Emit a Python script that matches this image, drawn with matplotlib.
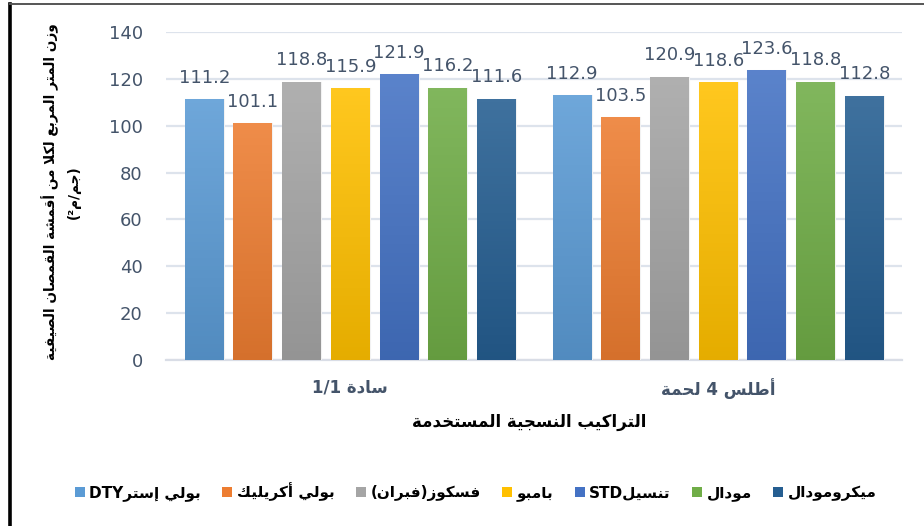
import re
import numpy as np
import matplotlib
matplotlib.use("Agg")
import matplotlib.pyplot as plt
from matplotlib.patches import Patch
from matplotlib.colors import to_rgb
from matplotlib.lines import Line2D

# data
groups = ["سادة 1/1", "أطلس 4 لحمة"]
series = ["بولي إسترDTY", "بولي أكريليك", "فسكوز(فبران)", "بامبو",
          "تنسيلSTD", "مودال", "ميكرومودال"]
values = [
    [111.2, 112.9],
    [101.1, 103.5],
    [118.8, 120.9],
    [115.9, 118.6],
    [121.9, 123.6],
    [116.2, 118.8],
    [111.6, 112.8],
]
colors = ["#5B9BD5", "#ED7D31", "#A5A5A5", "#FFC000", "#4472C4", "#70AD47", "#255E91"]
y_title = ["وزن المتر المربع لكلا من أقمشة القمصان الصيفية", "(جم/م²)"]
x_title = "التراكيب النسجية المستخدمة"

# small arabic shaper: matplotlib draws glyphs left to right with no joining
FORMS = {
    "ا": (0xFE8D, 0xFE8E), "أ": (0xFE83, 0xFE84), "إ": (0xFE87, 0xFE88), "آ": (0xFE81, 0xFE82),
    "ب": (0xFE8F, 0xFE90, 0xFE91, 0xFE92), "ة": (0xFE93, 0xFE94),
    "ت": (0xFE95, 0xFE96, 0xFE97, 0xFE98), "ث": (0xFE99, 0xFE9A, 0xFE9B, 0xFE9C),
    "ج": (0xFE9D, 0xFE9E, 0xFE9F, 0xFEA0), "ح": (0xFEA1, 0xFEA2, 0xFEA3, 0xFEA4),
    "خ": (0xFEA5, 0xFEA6, 0xFEA7, 0xFEA8), "د": (0xFEA9, 0xFEAA), "ذ": (0xFEAB, 0xFEAC),
    "ر": (0xFEAD, 0xFEAE), "ز": (0xFEAF, 0xFEB0),
    "س": (0xFEB1, 0xFEB2, 0xFEB3, 0xFEB4), "ش": (0xFEB5, 0xFEB6, 0xFEB7, 0xFEB8),
    "ص": (0xFEB9, 0xFEBA, 0xFEBB, 0xFEBC), "ض": (0xFEBD, 0xFEBE, 0xFEBF, 0xFEC0),
    "ط": (0xFEC1, 0xFEC2, 0xFEC3, 0xFEC4), "ظ": (0xFEC5, 0xFEC6, 0xFEC7, 0xFEC8),
    "ع": (0xFEC9, 0xFECA, 0xFECB, 0xFECC), "غ": (0xFECD, 0xFECE, 0xFECF, 0xFED0),
    "ف": (0xFED1, 0xFED2, 0xFED3, 0xFED4), "ق": (0xFED5, 0xFED6, 0xFED7, 0xFED8),
    "ك": (0xFED9, 0xFEDA, 0xFEDB, 0xFEDC), "ل": (0xFEDD, 0xFEDE, 0xFEDF, 0xFEE0),
    "م": (0xFEE1, 0xFEE2, 0xFEE3, 0xFEE4), "ن": (0xFEE5, 0xFEE6, 0xFEE7, 0xFEE8),
    "ه": (0xFEE9, 0xFEEA, 0xFEEB, 0xFEEC), "و": (0xFEED, 0xFEEE), "ى": (0xFEEF, 0xFEF0),
    "ي": (0xFEF1, 0xFEF2, 0xFEF3, 0xFEF4),
}
LAM_ALEF = {"ا": (0xFEFB, 0xFEFC), "أ": (0xFEF7, 0xFEF8), "إ": (0xFEF9, 0xFEFA), "آ": (0xFEF5, 0xFEF6)}


def shape(text):
    out = []
    i = 0
    n = len(text)
    while i < n:
        c = text[i]
        if c not in FORMS:
            out.append(c)
            i += 1
            continue
        prev = text[i - 1] if i > 0 else ""
        joins_prev = prev in FORMS and len(FORMS[prev]) == 4
        if c == "ل" and i + 1 < n and text[i + 1] in LAM_ALEF:
            out.append(chr(LAM_ALEF[text[i + 1]][1 if joins_prev else 0]))
            i += 2
            continue
        nxt = text[i + 1] if i + 1 < n else ""
        f = FORMS[c]
        joins_next = len(f) == 4 and nxt in FORMS
        if joins_prev and joins_next:
            g = f[3]
        elif joins_prev:
            g = f[1]
        elif joins_next:
            g = f[2]
        else:
            g = f[0]
        out.append(chr(g))
        i += 1
    return "".join(out)


def ar(text):
    # right-to-left line: flip everything, then put latin / number runs back
    s = shape(text)[::-1].translate(str.maketrans("()", ")("))
    return re.sub(r"[A-Za-z0-9]+(?:[./][A-Za-z0-9]+)*", lambda m: m.group(0)[::-1], s)


def mix(c, other, t):
    c = np.array(to_rgb(c))
    return tuple(c * (1 - t) + np.array(other) * t)


plt.rcParams["font.family"] = ["DejaVu Sans"]
fig = plt.figure(figsize=(9.24, 5.26), dpi=100)
ax = fig.add_axes([0.18, 0.3156, 0.7965, 0.6236])

x = np.arange(len(groups))
slot = 48.7 / 368
width = 39 / 368
label_col = "#44546A"

for k, (vals, col) in enumerate(zip(values, colors)):
    pos = x + (k - 3) * slot
    bars = ax.bar(pos, vals, width, color=col, edgecolor="#f2f2f2", linewidth=0.8, zorder=3)
    # soft vertical gradient like the office style
    top = mix(col, (1, 1, 1), 0.12)
    bot = mix(col, (0, 0, 0), 0.10)
    grad = np.linspace(0, 1, 64)[:, None, None]
    img = np.array(top)[None, None, :] * (1 - grad) + np.array(bot)[None, None, :] * grad
    for b in bars:
        im = ax.imshow(img, extent=(b.get_x(), b.get_x() + b.get_width(), 0, b.get_height()),
                       aspect="auto", origin="upper", zorder=3.5)
        im.set_clip_path(b)
    ax.bar_label(bars, labels=[f"{v:.1f}" for v in vals], padding=9,
                 fontsize=13, color=label_col, zorder=5)

ax.set_xlim(-0.5, 1.5)
ax.set_ylim(0, 140)
ax.set_yticks(np.arange(0, 141, 20))
ax.set_xticks(x)
ax.set_xticklabels([ar(g) for g in groups], fontsize=12, fontweight="bold", color=label_col)
ax.tick_params(axis="x", length=0, pad=13)
ax.tick_params(axis="y", length=0, pad=17, labelsize=13, labelcolor=label_col)
ax.grid(axis="y", color="#dde3ec", linewidth=1.6, zorder=0)
for s in ["top", "right", "left"]:
    ax.spines[s].set_visible(False)
ax.spines["bottom"].set_color("#d9dde6")
ax.spines["bottom"].set_linewidth(1.6)

fig.text(0.066, 0.635, ar(y_title[0]) + "\n" + ar(y_title[1]),
         rotation=90, ha="center", va="center", multialignment="center",
         fontsize=9.8, fontweight="bold", color="black", linespacing=1.7)
fig.text(0.573, 0.198, ar(x_title), ha="center", va="center",
         fontsize=12, fontweight="bold", color="black")

handles = [Patch(facecolor=c, edgecolor="none") for c in colors]
fig.legend(handles, [ar(s) for s in series], loc="center", bbox_to_anchor=(0.515, 0.065),
           ncol=7, frameon=False, handlelength=0.65, handleheight=0.65, handletextpad=0.3,
           columnspacing=1.4, prop={"size": 11, "weight": "bold"})

# outer frame of the pasted chart
fig.add_artist(Line2D([0.0103, 0.0103], [0, 0.992], color="black", linewidth=2.6))
fig.add_artist(Line2D([0.0103, 1], [0.992, 0.992], color="#555555", linewidth=1.4))

fig.savefig("out.png", dpi=100, facecolor="white")
